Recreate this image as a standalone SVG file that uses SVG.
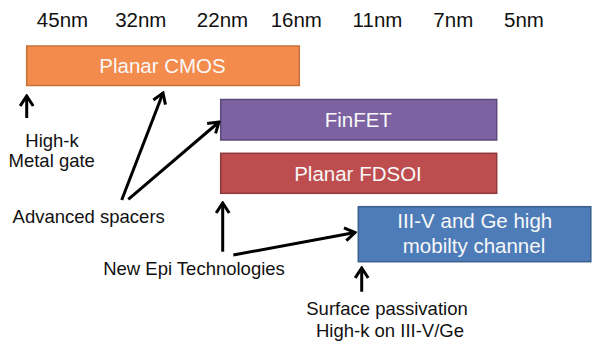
<svg xmlns="http://www.w3.org/2000/svg" width="592" height="344" viewBox="0 0 592 344">
  <style>
    text { font-family: "Liberation Sans", Arial, sans-serif; }
    .node { font-size: 20.5px; fill: #f8f8f8; text-anchor: middle; }
    .lbl { font-size: 18.5px; fill: #111; text-anchor: middle; }
    .scale { font-size: 20.5px; fill: #111; text-anchor: middle; }
    .conn { stroke: #000; stroke-width: 3; fill: none; marker-end: url(#head); }
  </style>
  <defs>
    <marker id="head" markerUnits="userSpaceOnUse" viewBox="-12 -8 14 16" refX="0" refY="0" markerWidth="14" markerHeight="16" orient="auto">
      <path d="M-10,-6.5 L0,0 L-10,6.5" fill="none" stroke="#000" stroke-width="3"/>
    </marker>
  </defs>
  <rect width="592" height="344" fill="#fff"/>

  <!-- technology node scale -->
  <g id="scale">
    <text class="scale" x="62.5" y="26.7">45nm</text>
    <text class="scale" x="140.8" y="26.7">32nm</text>
    <text class="scale" x="222.5" y="26.7">22nm</text>
    <text class="scale" x="296.3" y="26.7">16nm</text>
    <text class="scale" x="377.5" y="26.7">11nm</text>
    <text class="scale" x="453.3" y="26.7">7nm</text>
    <text class="scale" x="524" y="26.7">5nm</text>
  </g>

  <g id="planar-cmos">
    <rect x="26.7" y="46" width="272.6" height="39.5" fill="#F38B4C" stroke="#C8703A" stroke-width="1.5"/>
    <text class="node" x="162.5" y="72.7">Planar CMOS</text>
  </g>
  <g id="finfet">
    <rect x="220.7" y="99.5" width="276" height="40.5" fill="#7C62A0" stroke="#5D4A7A" stroke-width="1.5"/>
    <text class="node" x="358.3" y="126.7">FinFET</text>
  </g>
  <g id="planar-fdsoi">
    <rect x="220.7" y="153.3" width="276" height="40" fill="#BD4D4E" stroke="#8E3A3A" stroke-width="1.5"/>
    <text class="node" x="358" y="180.7">Planar FDSOI</text>
  </g>
  <g id="iii-v-ge">
    <rect x="358.3" y="206.7" width="232.5" height="55" fill="#4D7CB8" stroke="#3A5F8C" stroke-width="1.5"/>
    <text class="node" x="474.7" y="228.3">III-V  and Ge high</text>
    <text class="node" x="474" y="252.7">mobilty channel</text>
  </g>

  <g id="high-k-metal-gate">
    <text class="lbl" x="52" y="146.7">High-k</text>
    <text class="lbl" x="51.7" y="167.3">Metal gate</text>
  </g>
  <g id="advanced-spacers">
    <text class="lbl" x="88.7" y="223.3">Advanced spacers</text>
  </g>
  <g id="new-epi">
    <text class="lbl" x="194" y="275">New Epi Technologies</text>
  </g>
  <g id="surface-passivation">
    <text class="lbl" x="387" y="315">Surface passivation</text>
    <text class="lbl" x="390" y="336.7">High-k on III-V/Ge</text>
  </g>

  <g id="connectors">
    <line class="conn" x1="26.7" y1="118" x2="26.7" y2="96"/>
    <line class="conn" x1="121.7" y1="200" x2="163" y2="93"/>
    <line class="conn" x1="128.3" y1="199.3" x2="219" y2="122"/>
    <line class="conn" x1="222.7" y1="251.7" x2="222.7" y2="203"/>
    <line class="conn" x1="233.3" y1="255" x2="355" y2="232.5"/>
    <line class="conn" x1="361.7" y1="291.7" x2="361.7" y2="268"/>
  </g>
</svg>
